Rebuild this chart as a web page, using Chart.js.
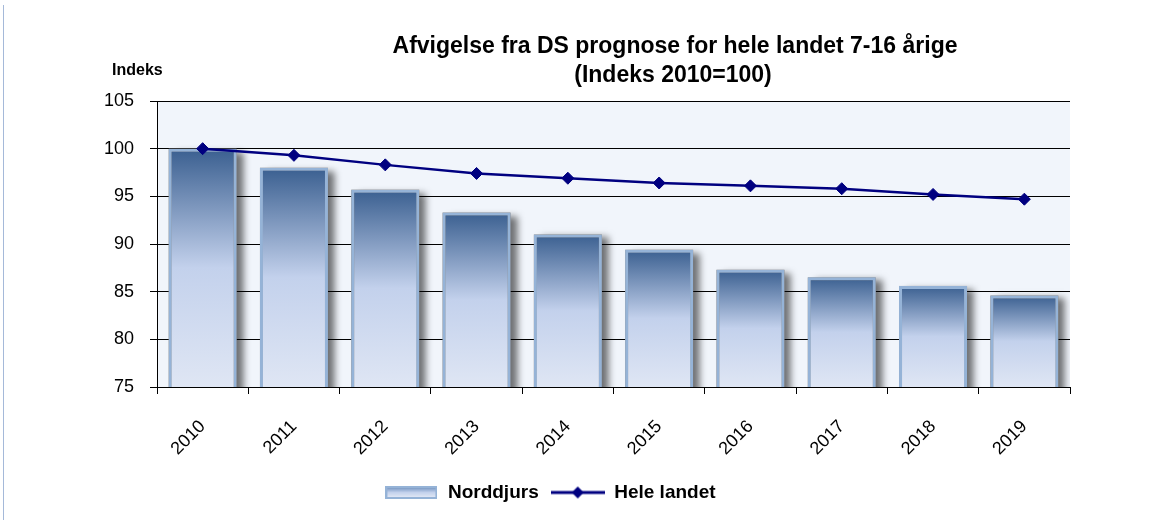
<!DOCTYPE html>
<html>
<head>
<meta charset="utf-8">
<script src="https://cdn.jsdelivr.net/npm/chart.js@4/dist/chart.umd.min.js"></script>
<style>
    html, body { margin: 0; padding: 0; background: #fff; }
    #wrap { width: 1171px; height: 522px; position: relative; }
</style>
</head>
<body>
<div id="wrap"><canvas id="chart"></canvas></div>
<script>
// Data
const years = ['2010', '2011', '2012', '2013', '2014', '2015', '2016', '2017', '2018', '2019'];
const norddjurs = [100, 98.0, 95.7, 93.3, 91.0, 89.4, 87.3, 86.5, 85.6, 84.6];
const heleLandet = [100, 99.3, 98.3, 97.4, 96.9, 96.4, 96.1, 95.8, 95.2, 94.7];
const seriesNames = ['Norddjurs', 'Hele landet'];
const titleLines = ['Afvigelse fra DS prognose for hele landet 7-16 årige', '(Indeks 2010=100)'];
const yAxisTitle = 'Indeks';
const yMin = 75, yMax = 105, yStep = 5;

const FONT = '"Liberation Sans", Arial, sans-serif';
const lineColor = '#000080';
const barBorder = '#95B3D7';

function barGradient(ctx, top, bottom) {
    const g = ctx.createLinearGradient(0, top, 0, bottom);
    g.addColorStop(0, '#3A5F90');
    g.addColorStop(0.5, '#C3D1EC');
    g.addColorStop(1, '#DFE6F4');
    return g;
}

// Legend swatches
const barSwatch = document.createElement('canvas');
barSwatch.width = 52; barSwatch.height = 13;
(function() {
    const c = barSwatch.getContext('2d');
    c.fillStyle = barBorder;
    c.fillRect(0, 0, 52, 13);
    const g = c.createLinearGradient(0, 2, 0, 11);
    g.addColorStop(0, '#7E9CC6');
    g.addColorStop(0.5, '#C3D1EC');
    g.addColorStop(1, '#DFE6F4');
    c.fillStyle = g;
    c.fillRect(2, 2, 48, 9);
})();

const lineSwatch = document.createElement('canvas');
lineSwatch.width = 54; lineSwatch.height = 14;
(function() {
    const c = lineSwatch.getContext('2d');
    c.strokeStyle = lineColor;
    c.lineWidth = 3;
    c.beginPath(); c.moveTo(0, 7); c.lineTo(54, 7); c.stroke();
    c.fillStyle = lineColor;
    c.beginPath(); c.moveTo(27, 1); c.lineTo(33, 7); c.lineTo(27, 13); c.lineTo(21, 7); c.closePath(); c.fill();
})();
const swatches = [barSwatch, lineSwatch];

// Plot background, bar shadows, titles
const decorations = {
    id: 'decorations',
    beforeDraw(chart) {
        const {ctx, chartArea: a} = chart;
        ctx.save();
        ctx.fillStyle = '#A5B9D9';
        ctx.fillRect(3, 5, 1, 515);
        ctx.fillStyle = '#F1F5FB';
        ctx.fillRect(a.left, a.top, a.right - a.left, a.bottom - a.top);
        ctx.restore();
    },
    beforeDatasetsDraw(chart) {
        const {ctx, chartArea: a} = chart;
        const meta = chart.getDatasetMeta(0);
        ctx.save();
        ctx.beginPath();
        ctx.rect(a.left, a.top, a.right - a.left, a.bottom - a.top);
        ctx.clip();
        ctx.shadowColor = 'rgba(0, 0, 0, 0.55)';
        ctx.shadowBlur = 7;
        ctx.shadowOffsetX = 7;
        ctx.shadowOffsetY = 3;
        ctx.fillStyle = '#8a8a8a';
        meta.data.forEach(bar => {
            const p = bar.getProps(['x', 'y', 'base', 'width'], true);
            ctx.fillRect(p.x - p.width / 2, p.y, p.width, p.base - p.y);
        });
        ctx.restore();
    },
    afterDraw(chart) {
        const ctx = chart.ctx;
        ctx.save();
        ctx.fillStyle = '#000';
        ctx.textAlign = 'center';
        ctx.textBaseline = 'middle';
        ctx.font = 'bold 23px ' + FONT;
        ctx.fillText(titleLines[0], 675, 47);
        ctx.fillText(titleLines[1], 673, 76);
        ctx.textAlign = 'left';
        ctx.font = 'bold 16px ' + FONT;
        ctx.fillText(yAxisTitle, 112, 71);
        ctx.restore();
    }
};

new Chart(document.getElementById('chart'), {
    data: {
        labels: years,
        datasets: [
            {
                type: 'bar',
                label: seriesNames[0],
                data: norddjurs,
                order: 2,
                backgroundColor: function(context) {
                    const chart = context.chart;
                    if (!chart.chartArea || context.type !== 'data') return '#C3D1EC';
                    const y = chart.scales.y;
                    return barGradient(chart.ctx, y.getPixelForValue(context.raw), y.getPixelForValue(y.min));
                },
                borderColor: barBorder,
                borderWidth: 3,
                borderSkipped: false,
                barPercentage: 0.745,
                categoryPercentage: 1.0
            },
            {
                type: 'line',
                label: seriesNames[1],
                data: heleLandet,
                order: 1,
                borderColor: lineColor,
                borderWidth: 2.5,
                tension: 0,
                pointStyle: 'rectRot',
                pointRadius: 6,
                pointBackgroundColor: lineColor,
                pointBorderColor: lineColor,
                pointBorderWidth: 1
            }
        ]
    },
    options: {
        responsive: true,
        maintainAspectRatio: false,
        animation: false,
        layout: {
            padding: { top: 101, left: 30, right: 101, bottom: 10 }
        },
        plugins: {
            title: { display: false },
            tooltip: { enabled: false },
            legend: {
                position: 'bottom',
                labels: {
                    usePointStyle: true,
                    pointStyleWidth: 54,
                    padding: 12,
                    color: '#000',
                    font: { family: FONT, size: 19, weight: 'bold' },
                    sort: (a, b) => a.datasetIndex - b.datasetIndex,
                    generateLabels: function(chart) {
                        return Chart.defaults.plugins.legend.labels.generateLabels(chart).map(item => {
                            item.pointStyle = swatches[item.datasetIndex];
                            return item;
                        });
                    }
                }
            }
        },
        scales: {
            x: {
                offset: true,
                border: { color: '#000', width: 1 },
                grid: {
                    offset: true,
                    drawOnChartArea: false,
                    drawTicks: true,
                    tickLength: 7,
                    color: '#000'
                },
                ticks: {
                    minRotation: 45,
                    maxRotation: 45,
                    labelOffset: 0,
                    padding: 22,
                    color: '#000',
                    font: { family: FONT, size: 18 }
                },
                afterFit: function(scale) { scale.height = 84; }
            },
            y: {
                min: yMin,
                max: yMax,
                border: { color: '#000', width: 1 },
                grid: {
                    color: '#000',
                    lineWidth: 1,
                    tickLength: 7
                },
                ticks: {
                    stepSize: yStep,
                    padding: 16,
                    color: '#000',
                    font: { family: FONT, size: 18 }
                },
                afterFit: function(scale) { scale.width = 127; }
            }
        }
    },
    plugins: [decorations]
});
</script>
</body>
</html>
